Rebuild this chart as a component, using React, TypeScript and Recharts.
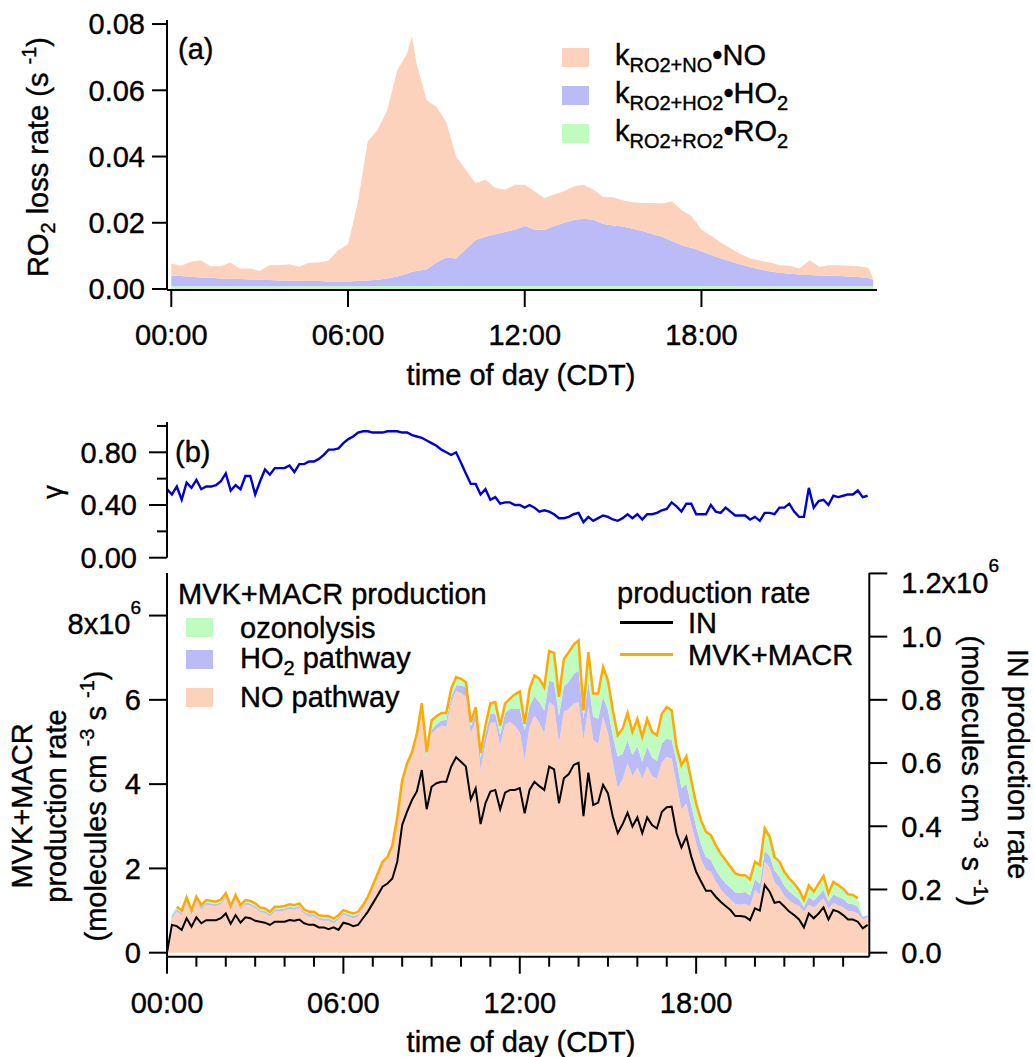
import type { ReactNode } from "react";
import { Area, ComposedChart, Line, XAxis, YAxis } from "recharts";

// ---- panel (a): RO2 loss rate, s-1 (20-min readings) ----
const HOURS_A = [
  0, 0.33, 0.67, 1, 1.33, 1.67, 2, 2.33, 2.67, 3, 3.33, 3.67, 4, 4.33, 4.67, 5, 5.33, 5.67, 6, 6.33,
  6.67, 7, 7.33, 7.67, 8, 8.17, 8.33, 8.67, 9, 9.33, 9.67, 10, 10.33, 10.67, 11, 11.33, 11.67, 12, 12.33, 12.67,
  13, 13.33, 13.67, 14, 14.33, 14.67, 15, 15.33, 15.67, 16, 16.33, 16.67, 17, 17.33, 17.67, 18, 18.33, 18.67, 19, 19.33,
  19.67, 20, 20.33, 20.67, 21, 21.33, 21.67, 22, 22.33, 22.67, 23, 23.33, 23.67, 23.83,
];
const LOSS_NO = [
  0.0037, 0.0031, 0.0045, 0.0052, 0.0035, 0.0037, 0.0049, 0.0032, 0.0033, 0.0026,
  0.0045, 0.0046, 0.0049, 0.0042, 0.0055, 0.0056, 0.0062, 0.0094, 0.0112, 0.0236,
  0.0419, 0.0452, 0.0508, 0.0622, 0.0664, 0.0711, 0.0626, 0.051, 0.047, 0.041,
  0.0308, 0.024, 0.0172, 0.0172, 0.014, 0.0128, 0.0135, 0.0125, 0.0115, 0.0097,
  0.0095, 0.0095, 0.0102, 0.0103, 0.0091, 0.0082, 0.0085, 0.0079, 0.008, 0.0085,
  0.0094, 0.01, 0.012, 0.0106, 0.0096, 0.0066, 0.0057, 0.0048, 0.0039, 0.0031,
  0.0026, 0.0026, 0.0027, 0.0023, 0.0024, 0.0018, 0.0045, 0.0026, 0.0032, 0.0033,
  0.0032, 0.0033, 0.0031, 0.0004,
];
const LOSS_HO2 = [
  0.0032, 0.0031, 0.0029, 0.0027, 0.0026, 0.0024, 0.0023, 0.0022, 0.0021, 0.002,
  0.0019, 0.0018, 0.0018, 0.0017, 0.0016, 0.0016, 0.0015, 0.0015, 0.0015, 0.0016,
  0.0018, 0.0019, 0.0023, 0.0029, 0.0037, 0.0043, 0.0045, 0.0051, 0.0071, 0.0086,
  0.0083, 0.0111, 0.0139, 0.0149, 0.0156, 0.0163, 0.0171, 0.0181, 0.0171, 0.0169,
  0.0181, 0.0191, 0.0199, 0.0203, 0.02, 0.0187, 0.0183, 0.018, 0.0173, 0.0166,
  0.0157, 0.0149, 0.0136, 0.0123, 0.0115, 0.0105, 0.0094, 0.0083, 0.0074, 0.0066,
  0.0058, 0.0051, 0.0045, 0.0041, 0.0038, 0.0036, 0.0034, 0.0033, 0.0032, 0.0031,
  0.003, 0.0028, 0.0025, 0.0019,
];
const LOSS_RO2 = [
  0.0008, 0.0008, 0.0008, 0.0008, 0.0008, 0.0008, 0.0008, 0.0008, 0.0008, 0.0008,
  0.0008, 0.0008, 0.0008, 0.0008, 0.0008, 0.0008, 0.0008, 0.0008, 0.0008, 0.0008,
  0.0008, 0.0009, 0.0009, 0.0009, 0.0009, 0.0009, 0.0009, 0.0009, 0.0009, 0.0009,
  0.0009, 0.0009, 0.0009, 0.0009, 0.0009, 0.0009, 0.0009, 0.0009, 0.0009, 0.0009,
  0.0009, 0.0009, 0.0009, 0.0009, 0.0009, 0.0009, 0.0009, 0.0009, 0.0009, 0.0009,
  0.0009, 0.0009, 0.0009, 0.0009, 0.0009, 0.0009, 0.0009, 0.0009, 0.0009, 0.0008,
  0.0008, 0.0008, 0.0008, 0.0008, 0.0008, 0.0008, 0.0008, 0.0008, 0.0008, 0.0008,
  0.0008, 0.0008, 0.0008, 0.0008,
];

// ---- panel (b) and (c): 10-min readings ----
const GAMMA = [
  0.52, 0.48, 0.54, 0.44, 0.57, 0.53, 0.59, 0.52, 0.54, 0.54,
  0.55, 0.58, 0.64, 0.51, 0.55, 0.52, 0.62, 0.62, 0.48, 0.58,
  0.67, 0.63, 0.68, 0.68, 0.68, 0.7, 0.65, 0.71, 0.71, 0.73,
  0.73, 0.75, 0.78, 0.82, 0.82, 0.83, 0.87, 0.9, 0.92, 0.95,
  0.96, 0.96, 0.95, 0.95, 0.95, 0.96, 0.96, 0.96, 0.95, 0.95,
  0.93, 0.92, 0.91, 0.89, 0.87, 0.85, 0.82, 0.8, 0.78, 0.8,
  0.72, 0.64, 0.56, 0.56, 0.48, 0.52, 0.44, 0.46, 0.41, 0.42,
  0.42, 0.4, 0.4, 0.38, 0.4, 0.38, 0.35, 0.36, 0.35, 0.33,
  0.3, 0.3, 0.31, 0.33, 0.34, 0.27, 0.31, 0.28, 0.3, 0.32,
  0.31, 0.29, 0.28, 0.3, 0.33, 0.3, 0.33, 0.29, 0.33, 0.33,
  0.34, 0.36, 0.37, 0.42, 0.39, 0.35, 0.41, 0.41, 0.33, 0.33,
  0.33, 0.4, 0.35, 0.34, 0.38, 0.35, 0.32, 0.32, 0.32, 0.29,
  0.31, 0.28, 0.34, 0.34, 0.33, 0.38, 0.38, 0.41, 0.35, 0.31,
  0.31, 0.53, 0.38, 0.43, 0.44, 0.4, 0.47, 0.46, 0.47, 0.48,
  0.48, 0.51, 0.46, 0.47,
];

// MVK+MACR production pathways, 1e6 molecules cm-3 s-1
const PROD_NO = [
  0, 0.82, 0.98, 0.89, 1.2, 0.9, 1.22, 1.02, 1.14, 1.12,
  1.1, 1.15, 1.3, 1.0, 1.26, 1.02, 1.14, 1.12, 1.06, 0.96,
  0.94, 0.86, 0.98, 0.98, 1.0, 1.04, 1.02, 1.06, 0.92, 0.86,
  0.86, 0.78, 0.76, 0.76, 0.7, 0.78, 0.9, 0.86, 0.82, 0.86,
  1.02, 1.26, 1.53, 1.81, 2.09, 2.2, 2.48, 3.15, 3.98, 4.38,
  4.65, 5.09, 5.76, 4.58, 5.2, 5.31, 5.39, 5.36, 5.93, 6.21,
  6.16, 6.08, 5.2, 5.49, 4.33, 4.96, 5.45, 5.47, 4.92, 5.41,
  5.48, 5.38, 5.23, 4.58, 5.36, 5.63, 5.45, 5.2, 5.95, 5.86,
  4.97, 5.72, 5.78, 5.91, 5.95, 5.05, 5.83, 5.05, 4.95, 5.6,
  5.21, 4.5, 3.9, 4.12, 4.49, 4.19, 4.4, 4.13, 4.42, 4.19,
  4.12, 4.52, 4.65, 4.6, 4.01, 3.4, 3.54, 3.04, 2.59, 2.21,
  1.97, 1.92, 1.69, 1.51, 1.37, 1.26, 1.15, 1.14, 1.16, 1.1,
  1.49, 1.38, 2.16, 2.02, 1.67, 1.55, 1.35, 1.24, 1.16, 1.11,
  0.97, 1.14, 1.07, 1.18, 1.29, 1.05, 1.18, 1.12, 1.08, 0.99,
  0.98, 0.93, 0.8, 0.84,
];
const PROD_HO2 = [
  0, 0.06, 0.05, 0.05, 0.05, 0.05, 0.05, 0.05, 0.05, 0.05,
  0.05, 0.05, 0.05, 0.05, 0.05, 0.05, 0.05, 0.05, 0.05, 0.05,
  0.05, 0.05, 0.05, 0.05, 0.05, 0.05, 0.05, 0.05, 0.05, 0.05,
  0.05, 0.05, 0.05, 0.05, 0.05, 0.05, 0.05, 0.05, 0.05, 0.05,
  0.05, 0.03, 0.03, 0.03, 0.03, 0.03, 0.03, 0.03, 0.05, 0.05,
  0.05, 0.05, 0.06, 0.06, 0.09, 0.1, 0.12, 0.16, 0.13, 0.13,
  0.18, 0.22, 0.17, 0.22, 0.28, 0.25, 0.22, 0.2, 0.25, 0.28,
  0.3, 0.4, 0.55, 0.7, 0.5, 0.45, 0.5, 0.55, 0.51, 0.55,
  0.65, 0.6, 0.65, 0.7, 0.75, 0.5, 0.6, 0.55, 0.6, 0.47,
  0.55, 0.65, 0.75, 0.6, 0.55, 0.5, 0.5, 0.4, 0.48, 0.45,
  0.42, 0.45, 0.43, 0.45, 0.55, 0.5, 0.47, 0.45, 0.4, 0.35,
  0.3, 0.28, 0.28, 0.28, 0.28, 0.28, 0.28, 0.28, 0.28, 0.26,
  0.25, 0.25, 0.26, 0.28, 0.28, 0.26, 0.24, 0.22, 0.2, 0.16,
  0.12, 0.18, 0.16, 0.18, 0.2, 0.16, 0.2, 0.2, 0.2, 0.18,
  0.17, 0.16, 0.05, 0.05,
];
const PROD_O3 = [
  0, 0.05, 0.06, 0.06, 0.06, 0.06, 0.06, 0.06, 0.06, 0.06,
  0.06, 0.06, 0.06, 0.06, 0.06, 0.06, 0.06, 0.06, 0.06, 0.06,
  0.06, 0.06, 0.06, 0.06, 0.06, 0.06, 0.06, 0.06, 0.06, 0.06,
  0.06, 0.06, 0.06, 0.06, 0.06, 0.06, 0.06, 0.06, 0.06, 0.06,
  0.06, 0.04, 0.04, 0.04, 0.04, 0.04, 0.04, 0.04, 0.06, 0.06,
  0.06, 0.06, 0.1, 0.12, 0.22, 0.2, 0.18, 0.17, 0.2, 0.2,
  0.16, 0.12, 0.1, 0.12, 0.13, 0.18, 0.25, 0.28, 0.22, 0.22,
  0.25, 0.35, 0.42, 0.15, 0.4, 0.5, 0.55, 0.55, 0.7, 0.7,
  0.45, 0.65, 0.7, 0.7, 0.71, 0.2, 0.7, 0.55, 0.6, 0.71,
  0.7, 0.6, 0.51, 0.6, 0.65, 0.55, 0.65, 0.59, 0.65, 0.6,
  0.62, 0.7, 0.75, 0.7, 0.32, 0.55, 0.65, 0.6, 0.55, 0.58,
  0.6, 0.59, 0.58, 0.56, 0.55, 0.5, 0.45, 0.42, 0.4, 0.38,
  0.42, 0.45, 0.53, 0.45, 0.32, 0.35, 0.33, 0.3, 0.28, 0.22,
  0.16, 0.28, 0.22, 0.28, 0.33, 0.2, 0.3, 0.28, 0.24, 0.22,
  0.22, 0.2, 0, 0,
];
// total MVK+MACR production line (left axis)
const PROD_MVK = [
  null, null, 1.09, 1.0, 1.31, 1.01, 1.33, 1.13, 1.25, 1.23,
  1.21, 1.26, 1.41, 1.11, 1.37, 1.13, 1.25, 1.23, 1.17, 1.07,
  1.05, 0.97, 1.09, 1.09, 1.11, 1.15, 1.13, 1.17, 1.03, 0.97,
  0.97, 0.89, 0.87, 0.87, 0.81, 0.89, 1.01, 0.97, 0.93, 0.97,
  1.13, 1.33, 1.6, 1.88, 2.16, 2.27, 2.55, 3.22, 4.09, 4.49,
  4.76, 5.2, 5.92, 4.76, 5.51, 5.61, 5.69, 5.69, 6.26, 6.54,
  6.5, 6.42, 5.47, 5.83, 4.74, 5.39, 5.92, 5.95, 5.39, 5.91,
  6.03, 6.13, 6.2, 5.43, 6.26, 6.58, 6.5, 6.3, 7.16, 7.11,
  6.07, 6.97, 7.13, 7.31, 7.41, 5.75, 7.13, 6.15, 6.15, 6.78,
  6.46, 5.75, 5.16, 5.32, 5.69, 5.24, 5.55, 5.12, 5.55, 5.24,
  5.16, 5.67, 5.83, 5.75, 4.88, 4.45, 4.66, 4.09, 3.54, 3.14,
  2.87, 2.79, 2.55, 2.35, 2.2, 2.04, 1.88, 1.84, 1.84, 1.74,
  2.16, 2.08, 2.95, 2.75, 2.27, 2.16, 1.92, 1.76, 1.64, 1.49,
  1.25, 1.6, 1.45, 1.64, 1.82, 1.41, 1.68, 1.6, 1.52, 1.39,
  1.37, 1.29, null, null,
];
// IN production (right axis), 1e6 molecules cm-3 s-1
const PROD_IN = [
  0, 0.088, 0.084, 0.072, 0.109, 0.082, 0.112, 0.093, 0.103, 0.103,
  0.103, 0.109, 0.124, 0.091, 0.119, 0.095, 0.112, 0.109, 0.101, 0.098,
  0.095, 0.088, 0.098, 0.098, 0.098, 0.103, 0.101, 0.105, 0.093, 0.088,
  0.088, 0.08, 0.08, 0.074, 0.08, 0.072, 0.095, 0.091, 0.084, 0.088,
  0.109, 0.13, 0.156, 0.182, 0.209, 0.219, 0.235, 0.288, 0.404, 0.446,
  0.483, 0.51, 0.578, 0.454, 0.525, 0.536, 0.541, 0.541, 0.589, 0.618,
  0.604, 0.589, 0.485, 0.52, 0.407, 0.473, 0.51, 0.515, 0.454, 0.506,
  0.515, 0.515, 0.521, 0.441, 0.515, 0.541, 0.527, 0.515, 0.589, 0.58,
  0.473, 0.552, 0.565, 0.594, 0.601, 0.432, 0.57, 0.467, 0.475, 0.531,
  0.504, 0.43, 0.378, 0.407, 0.443, 0.399, 0.428, 0.378, 0.428, 0.404,
  0.393, 0.446, 0.46, 0.462, 0.378, 0.333, 0.367, 0.304, 0.256, 0.225,
  0.196, 0.196, 0.177, 0.161, 0.148, 0.135, 0.116, 0.116, 0.114, 0.103,
  0.14, 0.133, 0.214, 0.193, 0.158, 0.161, 0.146, 0.13, 0.119, 0.105,
  0.08, 0.124, 0.109, 0.124, 0.143, 0.105, 0.135, 0.13, 0.119, 0.105,
  0.105, 0.098, 0.077, 0.088,
];

const HOUR_TICKS_MAJOR = [0, 6, 12, 18];
const HOUR_TICKS_ALL = [0, 1, 2, 3, 4, 5, 6, 7, 8, 9, 10, 11, 12, 13, 14, 15, 16, 17, 18, 19, 20, 21, 22, 23];
const LOSS_TICKS = [0, 0.02, 0.04, 0.06, 0.08];
const GAMMA_TICKS = [0, 0.2, 0.4, 0.6, 0.8, 1.0];
const MVK_TICKS = [0, 2, 4, 6, 8];
const IN_TICKS = [0, 0.2, 0.4, 0.6, 0.8, 1.0, 1.2];

const FONT = '"Liberation Sans", Arial, Helvetica, sans-serif';
const FS = 29;
const PEACH = "#fdd2bc";
const LAVENDER = "#bbbbf8";
const MINT = "#c0fbc0";
const ORANGE = "#ffaa00";
const GAMMA_BLUE = "#0000d2";
const AXIS = { stroke: "#000", strokeWidth: 2 };

// 10-min sampling grid (hours)
const TIMES_10 = GAMMA.map((_, i) => i / 6);

const lossData = HOURS_A.map((t, i) => ({ t, ro2: LOSS_RO2[i], ho2: LOSS_HO2[i], no: LOSS_NO[i] }));
const gammaData = TIMES_10.map((t, i) => ({ t, g: GAMMA[i] }));
const prodData = TIMES_10.map((t, i) => ({
  t,
  no: PROD_NO[i],
  ho2: PROD_HO2[i],
  o3: PROD_O3[i],
  mvk: PROD_MVK[i],
  inr: PROD_IN[i],
}));

const hourLabel = (h: number) => `${h < 10 ? "0" : ""}${h}:00`;

const txt = { fontSize: FS, fill: "#000", fontFamily: FONT, stroke: "#000", strokeWidth: 0.4 };

function xTickA(p: any) {
  const { x, y, payload } = p;
  return (
    <g>
      <line x1={x} x2={x} y1={y} y2={y + 17} {...AXIS} />
      <text x={x} y={y + 55} textAnchor="middle" {...txt}>
        {hourLabel(payload.value)}
      </text>
    </g>
  );
}

function xTickC(p: any) {
  const { x, y, payload } = p;
  const major = payload.value % 6 === 0;
  return (
    <g>
      <line x1={x} x2={x} y1={y} y2={y + (major ? 17 : 10)} {...AXIS} />
      {major && (
        <text x={x} y={y + 56} textAnchor="middle" {...txt}>
          {hourLabel(payload.value)}
        </text>
      )}
    </g>
  );
}

function yTickA(p: any) {
  const { x, y, payload } = p;
  return (
    <g>
      <line x1={x - 15} x2={x} y1={y} y2={y} {...AXIS} />
      <text x={x - 22} y={y} dy="0.355em" textAnchor="end" {...txt}>
        {payload.value.toFixed(2)}
      </text>
    </g>
  );
}

function yTickB(p: any) {
  const { x, y, payload } = p;
  const major = Math.round(payload.value * 10) % 4 === 0;
  return (
    <g>
      <line x1={x - (major ? 18 : 10)} x2={x} y1={y} y2={y} {...AXIS} />
      {major && (
        <text x={x - 30} y={y} dy="0.355em" textAnchor="end" {...txt}>
          {payload.value.toFixed(2)}
        </text>
      )}
    </g>
  );
}

function yTickCLeft(p: any) {
  const { x, y, payload } = p;
  const v = payload.value;
  return (
    <g>
      <line x1={x - 18} x2={x} y1={y} y2={y} {...AXIS} />
      {v === 8 ? (
        <text x={x - 26} y={y + 18} textAnchor="end" {...txt}>
          8x10<tspan dy={-20} fontSize={19}>6</tspan>
        </text>
      ) : (
        <text x={x - 26} y={y} dy="0.355em" textAnchor="end" {...txt}>
          {String(v)}
        </text>
      )}
    </g>
  );
}

function yTickCRight(p: any) {
  const { x, y, payload } = p;
  const v = payload.value;
  return (
    <g>
      <line x1={x} x2={x + 18} y1={y} y2={y} {...AXIS} />
      {v === 1.2 ? (
        <text x={x + 32} y={y + 20} textAnchor="start" {...txt}>
          1.2x10<tspan dy={-21} fontSize={19}>6</tspan>
        </text>
      ) : (
        <text x={x + 32} y={y} dy="0.355em" textAnchor="start" {...txt}>
          {v.toFixed(1)}
        </text>
      )}
    </g>
  );
}

const Sub = ({ children }: { children: ReactNode }) => (
  <span style={{ fontSize: 20, position: "relative", top: 7 }}>{children}</span>
);
const Sup = ({ children }: { children: ReactNode }) => (
  <span style={{ fontSize: 20, position: "relative", top: -12 }}>{children}</span>
);

const textStyle = {
  fontSize: FS,
  lineHeight: `${FS}px`,
  whiteSpace: "nowrap" as const,
  WebkitTextStroke: "0.4px #000",
};

function Centered({ x, y, deg = 0, size = FS, children }: { x: number; y: number; deg?: number; size?: number; children: ReactNode }) {
  return (
    <div
      style={{
        ...textStyle,
        position: "absolute",
        left: x,
        top: y,
        transform: `translate(-50%, -50%) rotate(${deg}deg)`,
        fontSize: size,
        lineHeight: `${size}px`,
      }}
    >
      {children}
    </div>
  );
}

function LeftText({ x, y, children }: { x: number; y: number; children: ReactNode }) {
  return (
    <div style={{ ...textStyle, position: "absolute", left: x, top: y, transform: "translateY(-50%)" }}>
      {children}
    </div>
  );
}

function Swatch({ x, y, color }: { x: number; y: number; color: string }) {
  return <div style={{ position: "absolute", left: x, top: y - 9.5, width: 27, height: 19, background: color }} />;
}

function LegendLine({ x, y, color }: { x: number; y: number; color: string }) {
  return <div style={{ position: "absolute", left: x, top: y - 1, width: 53, height: 2.5, background: color }} />;
}

export default function App() {
  return (
    <div
      style={{
        position: "absolute",
        left: 0,
        top: 0,
        width: 1034,
        height: 1057,
        overflow: "hidden",
        background: "#fff",
        fontFamily: FONT,
        color: "#000",
      }}
    >
      {/* (a) RO2 loss rate */}
      <div style={{ position: "absolute", left: 0, top: 0 }}>
        <ComposedChart width={1034} height={400} data={lossData} margin={{ top: 20, right: 157, bottom: 0, left: 0 }}>
          <XAxis
            dataKey="t"
            type="number"
            domain={[-0.146, 23.96]}
            allowDataOverflow
            ticks={HOUR_TICKS_MAJOR}
            interval={0}
            height={110}
            tickSize={0}
            tickMargin={0}
            tickLine={false}
            axisLine={AXIS}
            tick={xTickA}
          />
          <XAxis xAxisId="top" orientation="top" type="number" domain={[0, 1]} height={0} tick={false} tickLine={false} axisLine={AXIS} />
          <YAxis
            type="number"
            domain={[-0.0003, 0.08122]}
            allowDataOverflow
            ticks={LOSS_TICKS}
            interval={0}
            width={167}
            tickSize={0}
            tickMargin={0}
            tickLine={false}
            axisLine={AXIS}
            tick={yTickA}
          />
          <YAxis yAxisId="frame" orientation="right" type="number" domain={[0, 1]} width={0} tick={false} tickLine={false} axisLine={AXIS} />
          <Area type="linear" dataKey="ro2" stackId="a" stroke="none" fill={MINT} fillOpacity={1} dot={false} activeDot={false} isAnimationActive={false} />
          <Area type="linear" dataKey="ho2" stackId="a" stroke="none" fill={LAVENDER} fillOpacity={1} dot={false} activeDot={false} isAnimationActive={false} />
          <Area type="linear" dataKey="no" stackId="a" stroke="none" fill={PEACH} fillOpacity={1} dot={false} activeDot={false} isAnimationActive={false} />
        </ComposedChart>
      </div>

      {/* (b) gamma */}
      <div style={{ position: "absolute", left: 0, top: 400 }}>
        <ComposedChart width={1034} height={178} data={gammaData} margin={{ top: 22, right: 164.7, bottom: 20.3, left: 0 }}>
          <XAxis dataKey="t" type="number" domain={[0, 23.89]} allowDataOverflow hide />
          <XAxis xAxisId="top" orientation="top" type="number" domain={[0, 1]} height={0} tick={false} tickLine={false} axisLine={AXIS} />
          <YAxis
            type="number"
            domain={[0, 1.03]}
            allowDataOverflow
            ticks={GAMMA_TICKS}
            interval={0}
            width={167}
            tickSize={0}
            tickMargin={0}
            tickLine={false}
            axisLine={AXIS}
            tick={yTickB}
          />
          <YAxis yAxisId="frame" orientation="right" type="number" domain={[0, 1]} width={0} tick={false} tickLine={false} axisLine={AXIS} />
          <Line type="linear" dataKey="g" stroke={GAMMA_BLUE} strokeWidth={2.4} dot={false} activeDot={false} isAnimationActive={false} />
        </ComposedChart>
      </div>

      {/* (c) production rates */}
      <div style={{ position: "absolute", left: 0, top: 540 }}>
        <ComposedChart width={1034} height={517} data={prodData} margin={{ top: 33, right: 0, bottom: 0.3, left: 0 }}>
          <XAxis
            dataKey="t"
            type="number"
            domain={[0, 23.89]}
            allowDataOverflow
            ticks={HOUR_TICKS_ALL}
            interval={0}
            height={100}
            tickSize={0}
            tickMargin={0}
            tickLine={false}
            axisLine={AXIS}
            tick={xTickC}
          />
          <YAxis
            yAxisId="l"
            type="number"
            domain={[-0.095, 9.01]}
            allowDataOverflow
            ticks={MVK_TICKS}
            interval={0}
            width={167}
            tickSize={0}
            tickMargin={0}
            tickLine={false}
            axisLine={AXIS}
            tick={yTickCLeft}
          />
          <YAxis
            yAxisId="r"
            orientation="right"
            type="number"
            domain={[-0.0127, 1.2013]}
            allowDataOverflow
            ticks={IN_TICKS}
            interval={0}
            width={164.7}
            tickSize={0}
            tickMargin={0}
            tickLine={false}
            axisLine={AXIS}
            tick={yTickCRight}
          />
          <Area yAxisId="l" type="linear" dataKey="no" stackId="p" stroke="none" fill={PEACH} fillOpacity={1} dot={false} activeDot={false} isAnimationActive={false} />
          <Area yAxisId="l" type="linear" dataKey="ho2" stackId="p" stroke="none" fill={LAVENDER} fillOpacity={1} dot={false} activeDot={false} isAnimationActive={false} />
          <Area yAxisId="l" type="linear" dataKey="o3" stackId="p" stroke="none" fill={MINT} fillOpacity={1} dot={false} activeDot={false} isAnimationActive={false} />
          <Line yAxisId="l" type="linear" dataKey="mvk" stroke={ORANGE} strokeWidth={2.5} dot={false} activeDot={false} isAnimationActive={false} />
          <Line yAxisId="r" type="linear" dataKey="inr" stroke="#000" strokeWidth={2} dot={false} activeDot={false} isAnimationActive={false} />
        </ComposedChart>
      </div>

      {/* panel letters */}
      <LeftText x={178} y={49}>(a)</LeftText>
      <LeftText x={175} y={452}>(b)</LeftText>

      {/* axis titles */}
      <Centered x={40} y={157} deg={-90}>
        RO<Sub>2</Sub> loss rate (s <Sup>-1</Sup>)
      </Centered>
      <Centered x={521} y={375}>time of day (CDT)</Centered>
      <Centered x={53} y={492} deg={-90} size={27}>
        γ
      </Centered>
      <Centered x={22} y={806} deg={-90}>
        MVK+MACR
      </Centered>
      <Centered x={56} y={806} deg={-90}>
        production rate
      </Centered>
      <Centered x={98} y={806} deg={-90}>
        (molecules cm <Sup>-3</Sup> s <Sup>-1</Sup>)
      </Centered>
      <Centered x={1017} y={764} deg={90}>
        IN production rate
      </Centered>
      <Centered x={970} y={771} deg={90}>
        (molecules cm <Sup>-3</Sup> s <Sup>-1</Sup>)
      </Centered>
      <Centered x={521} y={1042}>time of day (CDT)</Centered>

      {/* legend (a) */}
      <Swatch x={562} y={57} color={PEACH} />
      <Swatch x={562} y={95} color={LAVENDER} />
      <Swatch x={562} y={133} color={MINT} />
      <LeftText x={615} y={57}>
        k<Sub>RO2+NO</Sub>•NO
      </LeftText>
      <LeftText x={615} y={95}>
        k<Sub>RO2+HO2</Sub>•HO<Sub>2</Sub>
      </LeftText>
      <LeftText x={615} y={133}>
        k<Sub>RO2+RO2</Sub>•RO<Sub>2</Sub>
      </LeftText>

      {/* legend (c) left */}
      <LeftText x={178} y={594}>MVK+MACR production</LeftText>
      <Swatch x={186} y={627.5} color={MINT} />
      <Swatch x={186} y={659.5} color={LAVENDER} />
      <Swatch x={186} y={697} color={PEACH} />
      <LeftText x={240} y={627.5}>ozonolysis</LeftText>
      <LeftText x={240} y={659.5}>
        HO<Sub>2</Sub> pathway
      </LeftText>
      <LeftText x={240} y={697}>NO pathway</LeftText>

      {/* legend (c) right */}
      <LeftText x={617} y={593}>production rate</LeftText>
      <LegendLine x={620} y={622.3} color="#000" />
      <LegendLine x={620} y={654.3} color={ORANGE} />
      <LeftText x={688} y={623}>IN</LeftText>
      <LeftText x={688} y={655}>MVK+MACR</LeftText>
    </div>
  );
}
